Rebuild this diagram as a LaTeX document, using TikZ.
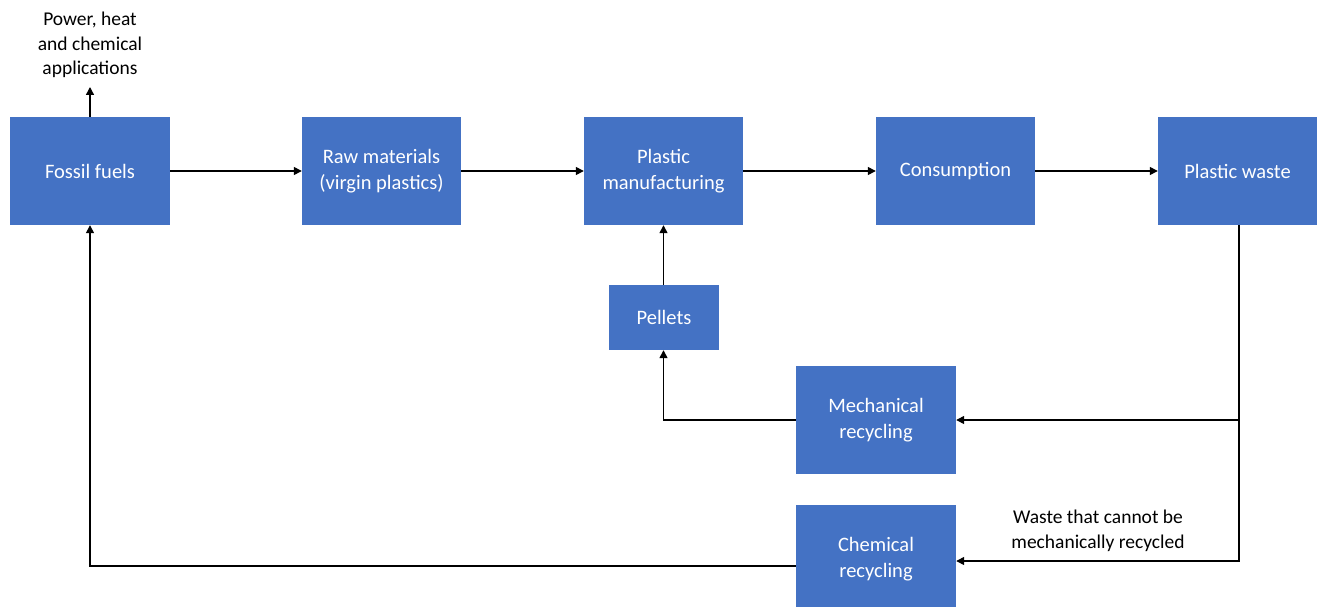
\documentclass[tikz,border=0pt]{standalone}
\usepackage{fontspec}
\setmainfont{Carlito}
\usetikzlibrary{arrows.meta}
\definecolor{boxblue}{HTML}{4472C4}
\tikzset{
  blk/.style={fill=boxblue, draw=none, text=white, align=center, inner sep=0pt,
    minimum width=160pt, minimum height=108pt, font=\fontsize{20.5}{25.5}\selectfont},
  conn/.style={draw=black, line width=1.4pt, -{Triangle[length=8pt,width=8pt]}},
  lbl/.style={align=center, font=\fontsize{19.5}{24.5}\selectfont, text=black, inner sep=0pt}
}
\begin{document}
\begin{tikzpicture}[x=1pt,y=-1pt]
\useasboundingbox (0,0) rectangle (1320,607);
\clip (0,0) rectangle (1320,607);
\fill[white] (0,0) rectangle (1320,607);
\node[blk] (ff) at (90,171) {Fossil fuels};
\node[blk, minimum width=159pt] (raw) at (381.5,171) {Raw materials\\(virgin plastics)};
\node[blk, minimum width=159pt] (pm) at (663.5,171) {Plastic\\manufacturing};
\node[blk, minimum width=159pt] (cons) at (955.5,171) {Consumption\strut};
\node[blk, minimum width=159pt] (pw) at (1237.5,171) {Plastic waste};
\node[blk, minimum width=110pt, minimum height=65pt] (pel) at (664,317.5) {Pellets};
\node[blk] (mech) at (876,420) {Mechanical\\recycling};
\node[blk] (chem) at (876,559) {Chemical\\recycling};
\node[lbl] (pow) at (90,45) {Power, heat\\and chemical\\applications};
\node[lbl] (wl) at (1098,531) {Waste that cannot be\\mechanically recycled};
\coordinate (powtip) at (90,87);
\coordinate (pwb) at (1239,225);
\draw[conn] (ff.north) -- (powtip);
\draw[conn] (ff.east) -- (raw.west);
\draw[conn] (raw.east) -- (pm.west);
\draw[conn] (pm.east) -- (cons.west);
\draw[conn] (cons.east) -- (pw.west);
\draw[conn] (pel.north -| pm.south) -- (pm.south);
\draw[conn] (mech.west) -| (pel.south -| pm.south);
\draw[conn] (pwb) |- (mech.east);
\draw[conn] (pwb) |- ([yshift=-2pt]chem.east);
\draw[conn] ([yshift=-7pt]chem.west) -| (ff.south);
\end{tikzpicture}
\end{document}
